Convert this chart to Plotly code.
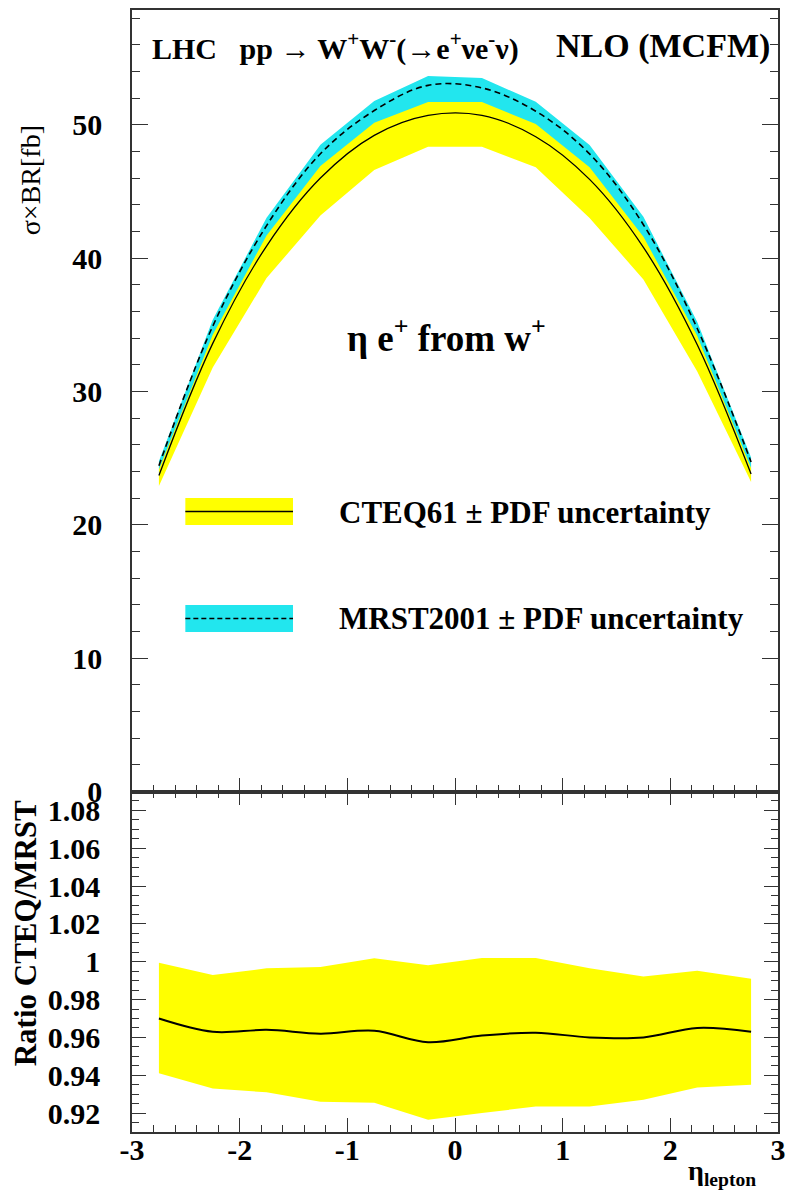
import plotly.graph_objects as go

# ---------------- data ----------------
eta = [-2.75, -2.25, -1.75, -1.25, -0.75, -0.25, 0.25, 0.75, 1.25, 1.75, 2.25, 2.75]

cteq_central = [23.7, 33.6, 40.9, 46.0, 49.2, 50.7, 50.7, 49.1, 45.9, 40.8, 33.5, 23.8]
cteq_upper = [24.15, 34.25, 41.7, 46.9, 50.15, 51.7, 51.7, 50.05, 46.8, 41.6, 34.15, 24.25]
cteq_lower = [22.9, 31.8, 38.5, 43.2, 46.6, 48.35, 48.35, 46.8, 43.0, 38.4, 31.5, 23.2]

mrst_central = [24.43, 34.89, 42.43, 47.82, 51.06, 52.95, 52.76, 51.01, 47.81, 42.5, 34.72, 24.71]
mrst_upper = [24.77, 35.38, 43.02, 48.49, 51.77, 53.65, 53.5, 51.72, 48.48, 43.1, 35.2, 25.05]
mrst_lower = [23.8, 34.0, 41.4, 46.6, 49.8, 51.6, 51.4, 49.7, 46.6, 41.4, 33.8, 24.1]

ratio_central = [0.970, 0.963, 0.964, 0.962, 0.9635, 0.9575, 0.961, 0.9625, 0.960, 0.960, 0.965, 0.963]
ratio_upper = [0.9995, 0.993, 0.9965, 0.9972, 1.0019, 0.9982, 1.002, 1.002, 0.9966, 0.9922, 0.9952, 0.991]
ratio_lower = [0.941, 0.933, 0.931, 0.926, 0.9255, 0.9165, 0.920, 0.9235, 0.9235, 0.927, 0.9335, 0.935]

top_yticks = [0, 10, 20, 30, 40, 50]
ratio_yticks = [0.92, 0.94, 0.96, 0.98, 1.0, 1.02, 1.04, 1.06, 1.08]
ratio_yticktext = ["0.92", "0.94", "0.96", "0.98", "1", "1.02", "1.04", "1.06", "1.08"]
xticks = [-3, -2, -1, 0, 1, 2, 3]
xticktext = ["-3", "-2", "-1", "0", "1", "2", "3"]

YELLOW = "#FFFF00"
CYAN = "#22E6EE"
FRAME = "#333333"
SERIF = "Liberation Serif"

W, H = 793, 1193
ML, MR, MT, MB = 132, 7, 10, 61
PW, PH = W - ML - MR, H - MT - MB
SPLIT = (1132 - 791.5) / PH  # bottom-panel fraction


def px(x):
    return (x - ML) / PW


def py(y):
    return (H - MB - y) / PH


fig = go.Figure()

# ---- top panel bands ----
fig.add_trace(go.Scatter(x=eta, y=mrst_lower, mode="lines", line=dict(width=0, color=CYAN),
                         showlegend=False, hoverinfo="skip", xaxis="x", yaxis="y"))
fig.add_trace(go.Scatter(x=eta, y=mrst_upper, mode="lines", line=dict(width=0, color=CYAN),
                         fill="tonexty", fillcolor=CYAN, showlegend=False, hoverinfo="skip",
                         xaxis="x", yaxis="y"))
fig.add_trace(go.Scatter(x=eta, y=cteq_lower, mode="lines", line=dict(width=0, color=YELLOW),
                         showlegend=False, hoverinfo="skip", xaxis="x", yaxis="y"))
fig.add_trace(go.Scatter(x=eta, y=cteq_upper, mode="lines", line=dict(width=0, color=YELLOW),
                         fill="tonexty", fillcolor=YELLOW, showlegend=False, hoverinfo="skip",
                         xaxis="x", yaxis="y"))
# ---- top panel central lines ----
fig.add_trace(go.Scatter(x=eta, y=mrst_central, mode="lines",
                         line=dict(color="black", width=1.6, dash="6px,4px", shape="spline"),
                         showlegend=False, xaxis="x", yaxis="y"))
fig.add_trace(go.Scatter(x=eta, y=cteq_central, mode="lines",
                         line=dict(color="black", width=1.3, shape="spline"),
                         showlegend=False, xaxis="x", yaxis="y"))

# ---- bottom panel ----
fig.add_trace(go.Scatter(x=eta, y=ratio_lower, mode="lines", line=dict(width=0, color=YELLOW),
                         showlegend=False, hoverinfo="skip", xaxis="x2", yaxis="y2"))
fig.add_trace(go.Scatter(x=eta, y=ratio_upper, mode="lines", line=dict(width=0, color=YELLOW),
                         fill="tonexty", fillcolor=YELLOW, showlegend=False, hoverinfo="skip",
                         xaxis="x2", yaxis="y2"))
fig.add_trace(go.Scatter(x=eta, y=ratio_central, mode="lines",
                         line=dict(color="black", width=2, shape="spline"),
                         showlegend=False, xaxis="x2", yaxis="y2"))

tickfont = dict(family=SERIF, size=30, color="black", weight="bold")
common_x = dict(range=[-3, 3], showline=True, linecolor=FRAME, linewidth=1.5,
                ticks="inside", ticklen=14, tickwidth=1, tickcolor=FRAME, tickvals=xticks,
                ticktext=xticktext, showgrid=False, zeroline=False,
                minor=dict(dtick=0.2, ticks="inside", ticklen=7, tickwidth=1, tickcolor=FRAME))

fig.update_layout(
    width=W, height=H,
    margin=dict(l=ML, r=MR, t=MT, b=MB),
    paper_bgcolor="white", plot_bgcolor="white",
    showlegend=False,
    xaxis=dict(**common_x, anchor="y", mirror=True, showticklabels=False),
    yaxis=dict(domain=[SPLIT, 1], range=[0, 58.6], showline=True, linecolor=FRAME, linewidth=1.5,
               mirror="ticks", ticks="inside", ticklen=16, tickwidth=1, tickcolor=FRAME,
               tickvals=top_yticks, tickfont=tickfont, ticklabelstandoff=22,
               showgrid=False, zeroline=False,
               minor=dict(dtick=2, ticks="inside", ticklen=8, tickwidth=1, tickcolor=FRAME)),
    xaxis2=dict(**common_x, anchor="y2", mirror="ticks", tickfont=tickfont, ticklabelstandoff=-10),
    yaxis2=dict(domain=[0, SPLIT], range=[0.91, 1.09], showline=True, linecolor=FRAME, linewidth=1.5,
                mirror="ticks", ticks="inside", ticklen=14, tickwidth=1, tickcolor=FRAME,
                tickvals=ratio_yticks, ticktext=ratio_yticktext, tickfont=tickfont,
                ticklabelstandoff=24, showgrid=False, zeroline=False,
                minor=dict(dtick=0.005, ticks="inside", ticklen=7, tickwidth=1, tickcolor=FRAME)),
)

# ---- legend boxes (shapes) ----
shapes = []
for (y0, y1, col) in [(498, 525, YELLOW), (605, 632, CYAN)]:
    shapes.append(dict(type="rect", xref="paper", yref="paper", x0=px(186), x1=px(295),
                       y0=py(y1), y1=py(y0), fillcolor=col, line=dict(width=0), layer="above"))
shapes.append(dict(type="line", xref="paper", yref="paper", x0=px(186), x1=px(295),
                   y0=py(511.5), y1=py(511.5), line=dict(color="black", width=1.4)))
shapes.append(dict(type="line", xref="paper", yref="paper", x0=px(186), x1=px(295),
                   y0=py(618.5), y1=py(618.5), line=dict(color="black", width=1.4, dash="5px,3px")))
fig.update_layout(shapes=shapes)

ann = []
ann.append(dict(xref="paper", yref="paper", x=px(150), y=py(46), xanchor="left", yanchor="middle",
                showarrow=False, font=dict(family=SERIF, size=30, color="black", weight="bold"),
                text="LHC&nbsp;&nbsp; pp → W<sup>+</sup>W<sup>-</sup>(→e<sup>+</sup>νe<sup>-</sup>ν)"))
ann.append(dict(xref="paper", yref="paper", x=px(780), y=py(46), xanchor="right", yanchor="middle",
                showarrow=False, font=dict(family=SERIF, size=34, color="black", weight="bold"),
                text="NLO (MCFM)"))
ann.append(dict(xref="paper", yref="paper", x=px(348), y=py(335), xanchor="left", yanchor="middle",
                showarrow=False, font=dict(family=SERIF, size=37, color="black", weight="bold"),
                text="η e<sup>+</sup> from w<sup>+</sup>"))
ann.append(dict(xref="paper", yref="paper", x=px(340), y=py(512), xanchor="left", yanchor="middle",
                showarrow=False, font=dict(family=SERIF, size=31, color="black", weight="bold"),
                text="CTEQ61 ± PDF uncertainty"))
ann.append(dict(xref="paper", yref="paper", x=px(340), y=py(619), xanchor="left", yanchor="middle",
                showarrow=False, font=dict(family=SERIF, size=31, color="black", weight="bold"),
                text="MRST2001 ± PDF uncertainty"))
ann.append(dict(xref="paper", yref="paper", x=px(30), y=py(180), xanchor="center", yanchor="middle",
                showarrow=False, textangle=-90, font=dict(family=SERIF, size=28, color="black"),
                text="σ×BR[fb]"))
ann.append(dict(xref="paper", yref="paper", x=px(24), y=py(933), xanchor="center", yanchor="middle",
                showarrow=False, textangle=-90, font=dict(family=SERIF, size=31, color="black", weight="bold"),
                text="Ratio CTEQ/MRST"))
ann.append(dict(xref="paper", yref="paper", x=px(766), y=py(1172), xanchor="right", yanchor="middle",
                showarrow=False, font=dict(family=SERIF, size=28, color="black", weight="bold"),
                text="η<sub>lepton</sub>"))
fig.update_layout(annotations=ann)

fig.write_html("out.html")
